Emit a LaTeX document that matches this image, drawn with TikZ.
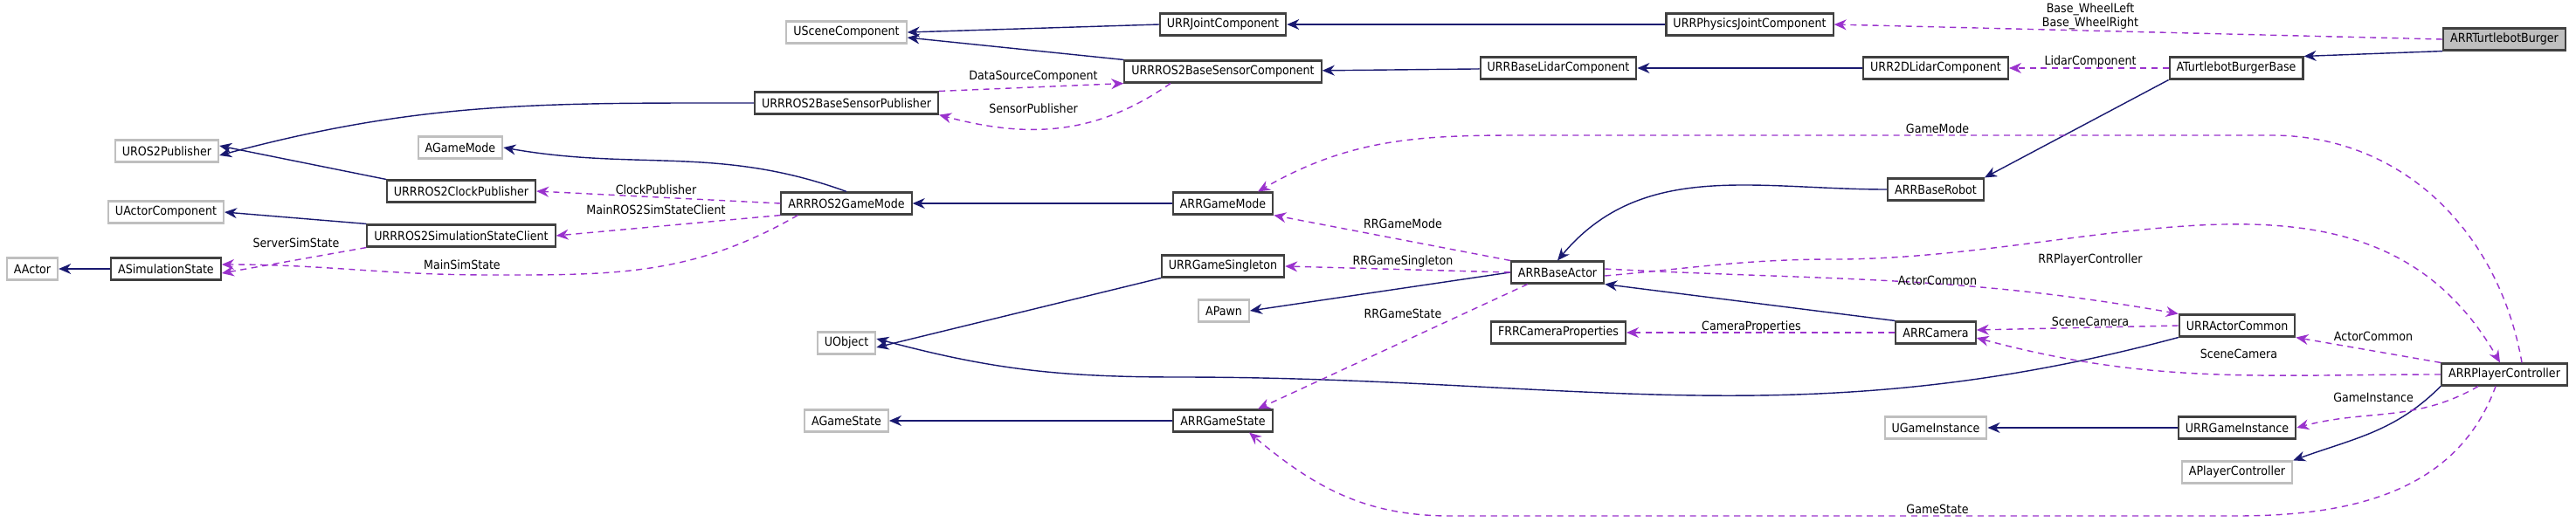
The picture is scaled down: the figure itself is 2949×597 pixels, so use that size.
\documentclass[tikz,border=0pt]{standalone}
\usepackage{fontspec}
\setmainfont{DejaVu Sans Condensed}
\usetikzlibrary{arrows.meta}
\definecolor{inh}{HTML}{191970}
\definecolor{use}{HTML}{9A32CD}
\definecolor{ext}{HTML}{BFBFBF}

\tikzset{
  cls/.style={draw=black!75, line width=0.6pt, minimum height=0.25cm, inner xsep=0.08cm, inner ysep=0pt, font=\fontsize{4}{4.8}\selectfont},
  extcls/.style={cls, draw=ext},
  here/.style={cls, fill=ext},
  isa/.style={draw=inh, line width=0.4pt, -{Stealth[length=4pt,width=3.4pt]}},
  has/.style={draw=use, line width=0.4pt, dash pattern=on 2pt off 1.6pt, -{Stealth[length=4pt,width=3.4pt]}},
  lbl/.style={font=\fontsize{4}{4.4}\selectfont, inner sep=0pt, align=center}
}

\begin{document}
\begin{tikzpicture}[x=0.01cm, y=-0.01cm]
  \useasboundingbox (0,0) rectangle (2949,597);

  \node[extcls] (usc) at (969,37) {USceneComponent};
  \node[cls] (jc) at (1400,28) {URRJointComponent};
  \node[cls] (pjc) at (2003,28) {URRPhysicsJointComponent};
  \node[here] (tb) at (2867,45) {ARRTurtlebotBurger};
  \node[cls] (sc) at (1400,82) {URRROS2BaseSensorComponent};
  \node[cls] (blc) at (1784,78) {URRBaseLidarComponent};
  \node[cls] (l2d) at (2216,78) {URR2DLidarComponent};
  \node[cls] (tbb) at (2560,78) {ATurtlebotBurgerBase};
  \node[cls] (sp) at (969,118) {URRROS2BaseSensorPublisher};
  \node[extcls] (ros2p) at (191,173) {UROS2Publisher};
  \node[extcls] (agm) at (527,169) {AGameMode};
  \node[cls] (cp) at (528,219) {URRROS2ClockPublisher};
  \node[cls] (r2gm) at (969,233) {ARRROS2GameMode};
  \node[cls] (gm) at (1400,233) {ARRGameMode};
  \node[cls] (br) at (2216,217) {ARRBaseRobot};
  \node[extcls] (uac) at (190,243) {UActorComponent};
  \node[cls] (ssc) at (528,270) {URRROS2SimulationStateClient};
  \node[extcls] (aa) at (37,308) {AActor};
  \node[cls] (ss) at (190,308) {ASimulationState};
  \node[cls] (gs) at (1400,305) {URRGameSingleton};
  \node[cls] (ba) at (1783,312) {ARRBaseActor};
  \node[extcls] (pawn) at (1401,356) {APawn};
  \node[cls] (fcp) at (1784,381) {FRRCameraProperties};
  \node[cls] (cam) at (2216,381) {ARRCamera};
  \node[cls] (ac) at (2561,373) {URRActorCommon};
  \node[extcls] (uo) at (969,393) {UObject};
  \node[cls] (pc) at (2867,429) {ARRPlayerController};
  \node[extcls] (ags) at (969,482) {AGameState};
  \node[cls] (rgs) at (1400,482) {ARRGameState};
  \node[extcls] (ugi) at (2216,490) {UGameInstance};
  \node[cls] (gi) at (2561,490) {URRGameInstance};
  \node[extcls] (apc) at (2561,541) {APlayerController};

  % inheritance
  \draw[isa] (jc.west) -- (usc.east);
  \draw[isa] (sc.north west) -- ([yshift=-0.06cm]usc.east);
  \draw[isa] (pjc) -- (jc);
  \draw[isa] (blc) -- (sc);
  \draw[isa] (l2d) -- (blc);
  \draw[isa] (tb.south west) -- (tbb.north east);
  \draw[isa] (tbb.south west) -- (br.north east);
  \draw[isa] (br.west) to[out=180,in=50] (ba.north);
  \draw[isa] (sp.west) to[out=180,in=15] ([yshift=-0.05cm]ros2p.east);
  \draw[isa] (cp.north west) -- ([yshift=0.06cm]ros2p.east);
  \draw[isa] (r2gm.north) to[out=160,in=-10] (agm.east);
  \draw[isa] (gm) -- (r2gm);
  \draw[isa] (ssc.north west) -- (uac.east);
  \draw[isa] (ss) -- (aa);
  \draw[isa] (gs.south west) -- ([yshift=-0.05cm]uo.east);
  \draw[isa] (ba.west) -- (pawn.east);
  \draw[isa] (cam.north west) -- (ba.south east);
  \draw[isa] (ac.south west) to[out=195,in=0] (1350,432) to[out=180,in=-15] ([yshift=0.05cm]uo.east);
  \draw[isa] (rgs) -- (ags);
  \draw[isa] (gi) -- (ugi);
  \draw[isa] (pc.south west) to[out=-135,in=20] (apc.north east);

  % usage
  \draw[has] (tb.west) -- (pjc.east);
  \node[lbl] (lwl) at (2393,19) {Base\_WheelLeft\\Base\_WheelRight};
  \draw[has] (tbb) -- (l2d);
  \node[lbl] (llc) at (2393,71) {LidarComponent};
  \draw[has] (sp.north east) -- (sc.south west);
  \node[lbl] (lds) at (1183,88) {DataSourceComponent};
  \draw[has] ([xshift=-0.6cm]sc.south) to[out=-145,in=-15] (sp.south east);
  \node[lbl] (lsp) at (1183,124) {SensorPublisher};
  \draw[has] (r2gm.west) -- (cp.east);
  \node[lbl] (lcp) at (751,217) {ClockPublisher};
  \draw[has] (r2gm.south west) -- (ssc.east);
  \node[lbl] (lmr) at (751,240) {MainROS2SimStateClient};
  \draw[has] (ssc.south west) -- ([yshift=-0.05cm]ss.east);
  \node[lbl] (lsss) at (339,278) {ServerSimState};
  \draw[has] ([xshift=0.2cm]r2gm.south west) to[out=-150,in=0] (560,315) to[out=180,in=0] ([yshift=0.05cm]ss.east);
  \node[lbl] (lmss) at (529,303) {MainSimState};
  \draw[has] ([xshift=0.2cm]pc.north) to[out=100,in=0] (2600,155) -- (1780,155) to[out=180,in=30] ([xshift=0.4cm]gm.north);
  \node[lbl] (lgm) at (2218,147) {GameMode};
  \draw[has] (ba.north west) -- (gm.south east);
  \node[lbl] (lrgm) at (1606,256) {RRGameMode};
  \draw[has] (ba.west) -- (gs.east);
  \node[lbl] (lrgs) at (1606,300) {RRGameSingleton};
  \draw[has] ([xshift=0.2cm]ba.south west) -- ([xshift=0.4cm]rgs.north);
  \node[lbl] (lrgst) at (1606,359) {RRGameState};
  \draw[has] ([yshift=-0.04cm]ba.east) to[out=5,in=180] (2100,297) to[out=0,in=120] ([xshift=-0.05cm]pc.north);
  \node[lbl] (lrpc) at (2393,298) {RRPlayerController};
  \draw[has] ([yshift=0.04cm]ba.east) to[out=-3,in=170] (ac.north west);
  \node[lbl] (lac) at (2218,321) {ActorCommon};
  \draw[has] (cam) -- (fcp);
  \node[lbl] (lcpr) at (2005,375) {CameraProperties};
  \draw[has] (ac.west) -- ([yshift=0.03cm]cam.east);
  \node[lbl] (lsc) at (2393,368) {SceneCamera};
  \draw[has] (pc.north west) -- (ac.south east);
  \node[lbl] (lac2) at (2717,385) {ActorCommon};
  \draw[has] (pc.west) to[out=180,in=-15] ([yshift=-0.06cm]cam.east);
  \node[lbl] (lsc2) at (2563,405) {SceneCamera};
  \draw[has] ([xshift=-0.3cm]pc.south) to[out=-150,in=15] (gi.east);
  \node[lbl] (lgi) at (2717,455) {GameInstance};
  \draw[has] ([xshift=-0.1cm]pc.south) to[out=-110,in=0] (2560,591) -- (1660,591) to[out=180,in=-40] ([xshift=0.3cm]rgs.south);
  \node[lbl] (lgs) at (2218,583) {GameState};
\end{tikzpicture}
\end{document}
